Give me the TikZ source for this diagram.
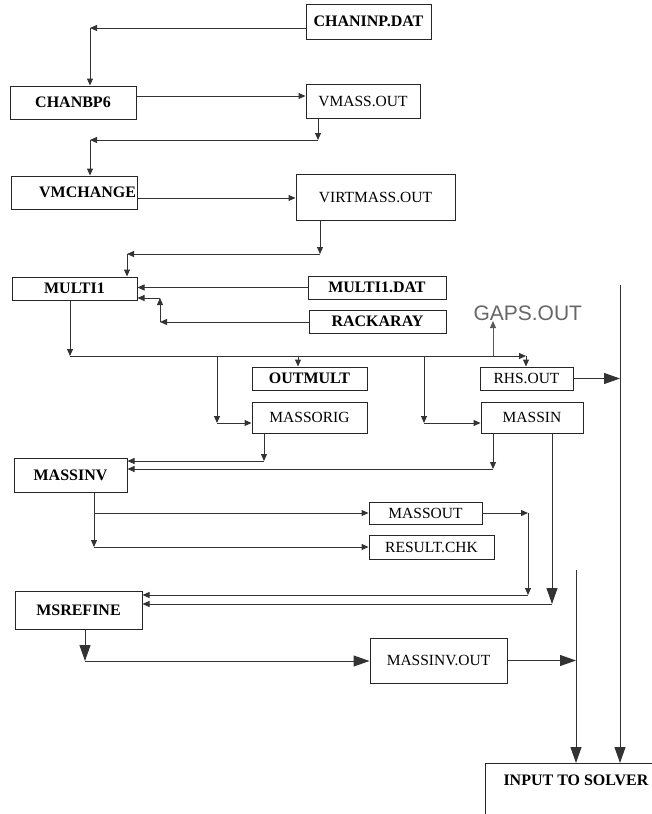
\documentclass[tikz,border=0pt]{standalone}
\usepackage{fontspec}
\setmainfont{Liberation Serif}
\setsansfont{Liberation Sans}
\usetikzlibrary{
  arrows.meta,
  calc,
  positioning
}
\tikzset{>=stealth}

\begin{document}
\begin{tikzpicture}[x=1pt, y=-1pt, line width=1pt,
	box/.style={draw=black!85, rectangle, inner sep=0pt, font=\fontsize{15.5}{17}\selectfont},
	prog/.style={box, font=\fontsize{16}{18}\selectfont\bfseries},
	arr/.style={draw=black!80, -{Triangle[length=7pt,width=6pt]}},
	bigarr/.style={draw=black!80, -{Triangle[length=16pt,width=11pt]}}]
				\useasboundingbox (0,0) rectangle (652,814);
				\clip (0,0) rectangle (652,814);
				% boxes
				\node[prog, minimum width=125pt, minimum height=35pt] (chaninp) at (368.5,21.5) {CHANINP.DAT};
				\node[prog, minimum width=126pt, minimum height=33pt] (chanbp) at (73,102.5) {CHANBP6};
				\node[box, minimum width=114pt, minimum height=34pt] (vmass) at (363,101) {VMASS.OUT};
				\node[prog, minimum width=126pt, minimum height=33pt, text width=124pt, align=right] (vmchange) at (74,192.5) {VMCHANGE};
				\node[box, minimum width=159pt, minimum height=46pt] (virtmass) at (375.5,197) {VIRTMASS.OUT};
				\node[prog, minimum width=125pt, minimum height=23pt] (multi) at (74.5,288.5) {MULTI1};
				\node[prog, minimum width=138pt, minimum height=23pt] (multidat) at (377,287.5) {MULTI1.DAT};
				\node[prog, minimum width=137pt, minimum height=23pt] (rack) at (377.5,321.5) {RACKARAY};
				\node[prog, minimum width=115pt, minimum height=23pt] (outmult) at (309.5,378.5) {OUTMULT};
				\node[box, minimum width=115pt, minimum height=31pt] (massorig) at (309.5,417.5) {MASSORIG};
				\node[box, minimum width=93pt, minimum height=23pt] (rhs) at (526.5,378.5) {RHS.OUT};
				\node[box, minimum width=102pt, minimum height=31pt] (massin) at (532,417.5) {MASSIN};
				\node[prog, minimum width=113pt, minimum height=34pt] (massinv) at (70.5,475) {MASSINV};
				\node[box, minimum width=113pt, minimum height=22pt] (massout) at (425.5,513) {MASSOUT};
				\node[box, minimum width=125pt, minimum height=24pt] (result) at (431.5,547) {RESULT.CHK};
				\node[prog, minimum width=127pt, minimum height=38pt] (msrefine) at (78.5,610) {MSREFINE};
				\node[box, minimum width=137pt, minimum height=45pt] (massinvout) at (438.5,660.5) {MASSINV.OUT};
				\node[prog, anchor=north west, inner xsep=18pt, text height=22pt, text depth=70pt] (solver) at (485,763) {INPUT TO SOLVER};
				\node[font=\sffamily\fontsize{21}{23}\selectfont, text=black!60, anchor=south west, inner sep=0pt] (gaps) at (473,321) {GAPS.OUT};
				% corners
				\coordinate (c1) at (90,28);
				\coordinate (c2) at (200,96);
				\coordinate (c3) at (318,140);
				\coordinate (c4) at (90,140);
				\coordinate (c5) at (200,198);
				\coordinate (c6) at (320,254);
				\coordinate (c7) at (127,254);
				\coordinate (c8) at (160,322);
				\coordinate (c9) at (160,298);
				\coordinate (b0) at (70,356);
				\coordinate (b1) at (217,356);
				\coordinate (b2) at (298,356);
				\coordinate (b3) at (424,356);
				\coordinate (g1) at (493,356);
				\coordinate (b4) at (526,356);
				\coordinate (d1) at (217,423);
				\coordinate (d2) at (424,423);
				\coordinate (r1) at (620,285);
				\coordinate (e1) at (264,461);
				\coordinate (e2) at (493,469);
				\coordinate (f0) at (94,547);
				\coordinate (f1) at (94,513);
				\coordinate (h1) at (528,513);
				\coordinate (h2) at (528,595);
				\coordinate (h3) at (552,604);
				\coordinate (k1) at (85,661);
				\coordinate (k2) at (576,570);
				% connectors
				\draw[arr] (chaninp.west |- c1) -- (c1);
				\draw[arr] (c1) -- (c1 |- chanbp.north);
				\draw[arr] (chanbp.east |- c2) -- (vmass.west |- c2);
				\draw[arr] (vmass.south -| c3) -- (c3);
				\draw[arr] (c3) -- (c4);
				\draw[arr] (c4) -- (c4 |- vmchange.north);
				\draw[arr] (vmchange.east |- c5) -- (virtmass.west |- c5);
				\draw[arr] (virtmass.south -| c6) -- (c6);
				\draw[arr] (c6) -- (c7);
				\draw[arr] (c7) -- (c7 |- multi.north);
				\draw[arr] (multidat.west) -- (multidat.west -| multi.east);
				\draw[arr] (rack.west |- c8) -- (c8);
				\draw[arr] (c8) -- (c9);
				\draw[arr] (c9) -- (c9 -| multi.east);
				\draw[arr] (multi.south -| b0) -- (b0);
				\draw[arr] (b0) -- (b4);
				\draw[arr] (b4) -- (b4 |- rhs.north);
				\draw[arr] (b1) -- (d1);
				\draw[arr] (d1) -- (d1 -| massorig.west);
				\draw[arr] (b2) -- (b2 |- outmult.north);
				\draw[arr] (b3) -- (d2);
				\draw[arr] (d2) -- (d2 -| massin.west);
				\draw[arr, draw=black!65] (g1) -- (g1 |- gaps.south);
				\draw[bigarr] (rhs.east) -- (rhs.east -| r1);
				\draw[bigarr] (r1) -- (r1 |- solver.north);
				\draw[arr] (massorig.south -| e1) -- (e1);
				\draw[arr] (e1) -- (e1 -| massinv.east);
				\draw[arr] (massin.south -| e2) -- (e2);
				\draw[arr] (e2) -- (e2 -| massinv.east);
				\draw[arr] (massinv.south -| f0) -- (f0);
				\draw[arr] (f0) -- (result.west);
				\draw[arr] (f1) -- (massout.west);
				\draw[arr] (massout.east) -- (h1);
				\draw[arr] (h1) -- (h2);
				\draw[arr] (h2) -- (h2 -| msrefine.east);
				\draw[bigarr] (massin.south -| h3) -- (h3);
				\draw[arr] (h3) -- (h3 -| msrefine.east);
				\draw[bigarr] (msrefine.south -| k1) -- (k1);
				\draw[bigarr] (k1) -- (k1 -| massinvout.west);
				\draw[bigarr] (massinvout.east) -- (massinvout.east -| k2);
				\draw[bigarr] (k2) -- (k2 |- solver.north);
			\end{tikzpicture}
\end{document}
